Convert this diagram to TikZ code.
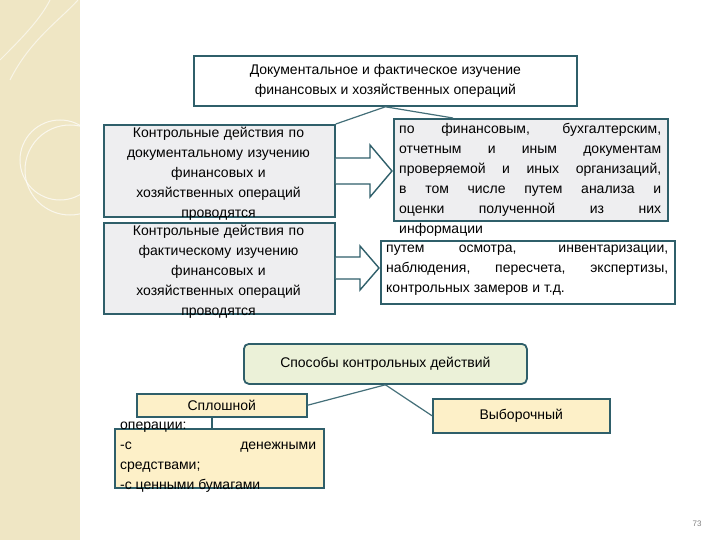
\documentclass[tikz,border=0pt]{standalone}
\usepackage{fontspec}
\setmainfont{Liberation Sans}
\definecolor{bd}{HTML}{2F5F6A}
\definecolor{gr}{HTML}{EEEEF0}
\definecolor{yl}{HTML}{FDF0C8}
\definecolor{gn}{HTML}{EBF1D8}
\definecolor{bg}{HTML}{EFE6C4}
\begin{document}
\begin{tikzpicture}[x=1pt,y=-1pt,
  box/.style={draw=bd,line width=1.8pt,inner sep=0pt,anchor=north west},
  txt/.style={inner sep=0pt,align=center,font=\fontsize{14}{20}\selectfont},
  jtxt/.style={inner sep=0pt,align=justify,font=\fontsize{14}{20}\selectfont},
  conn/.style={draw=bd!90,line width=1.2pt},
  bigarrow/.style={draw=bd,line width=1.4pt,fill=white}]
\useasboundingbox (0,0) rectangle (720,540);
\fill[white] (0,0) rectangle (720,540);
\fill[bg] (0,0) rectangle (80,540);
\draw[white,line width=1pt,opacity=.7] (60,160) circle (40);
\draw[white,line width=1pt,opacity=.7] (70,170) circle (45);
\draw[white,line width=1pt,opacity=.6] (10,80) .. controls (30,40) and (60,20) .. (78,0);
\draw[white,line width=1pt,opacity=.6] (0,60) .. controls (20,40) and (40,20) .. (50,0);
% boxes
\node[box,fill=white,minimum width=383,minimum height=50] (top) at (193,55) {};
\node[txt] at (top.center) {Документальное и фактическое изучение\\финансовых и хозяйственных операций};
\node[box,fill=gr,minimum width=231,minimum height=92] (l1) at (103,124) {};
\node[txt,anchor=north,text width=235] at (218.5,127) {Контрольные действия по\\документальному изучению\\финансовых и\\хозяйственных операций\\проводятся};
\node[box,fill=gr,minimum width=231,minimum height=91] (l2) at (103,222) {};
\node[txt,anchor=north,text width=235] at (218.5,225) {Контрольные действия по\\фактическому изучению\\финансовых и\\хозяйственных операций\\проводятся};
\node[box,fill=gr,minimum width=274,minimum height=102] (r1) at (393,118) {};
\node[jtxt,anchor=north west,text width=262] at (399,123) {по финансовым, бухгалтерским,\linebreak отчетным и иным документам\linebreak проверяемой и иных организаций,\linebreak в том числе путем анализа и\linebreak оценки полученной из них\linebreak информации};
\node[box,fill=white,minimum width=294,minimum height=63] (r2) at (380,240) {};
\node[jtxt,anchor=north west,text width=282] at (386,245) {путем осмотра, инвентаризации,\linebreak наблюдения, пересчета, экспертизы,\linebreak контрольных замеров и т.д.};
\draw[conn] (top.south) -- (l1.north east);
\draw[conn] (top.south) -- ([xshift=60pt]r1.north west);
% big arrows
\draw[bigarrow] (l1.east |- 0,158) -- (370,158) -- (370,145) -- (392,171) -- (370,197) -- (370,184) -- (l1.east |- 0,184) ;
\draw[bigarrow] (l2.east |- 0,257) -- (360,257) -- (360,246) -- (379,268) -- (360,290) -- (360,279) -- (l2.east |- 0,279);
% bottom
\node[box,draw=bd,fill=gn,rounded corners=5pt,minimum width=283,minimum height=40] (sp) at (243,343) {};
\node[txt] at (sp.center) {Способы контрольных действий};
\node[box,fill=yl,minimum width=170,minimum height=23,line width=1.5pt] (sl) at (136,393) {};
\node[txt] at (sl.center) {Сплошной};
\node[box,fill=yl,minimum width=177,minimum height=34,line width=1.5pt] (vb) at (432,398) {};
\node[txt] at (vb.center) {Выборочный};
\node[box,fill=yl,minimum width=209,minimum height=59,line width=1.5pt] (op) at (114,428) {};
\node[jtxt,anchor=north west,text width=196] at (120,422) {операции:\\-с \hfill денежными\\средствами;\\-с ценными бумагами};
\draw[conn] (sp.south) -- (sl.east);
\draw[conn] (sp.south) -- (vb.west);
\draw[bd,line width=2pt] (sl.south -| 212,0) -- (op.north -| 212,0);
\node[font=\fontsize{8}{8}\selectfont,text=gray] (pg) at (697,524) {73};
\end{tikzpicture}
\end{document}
